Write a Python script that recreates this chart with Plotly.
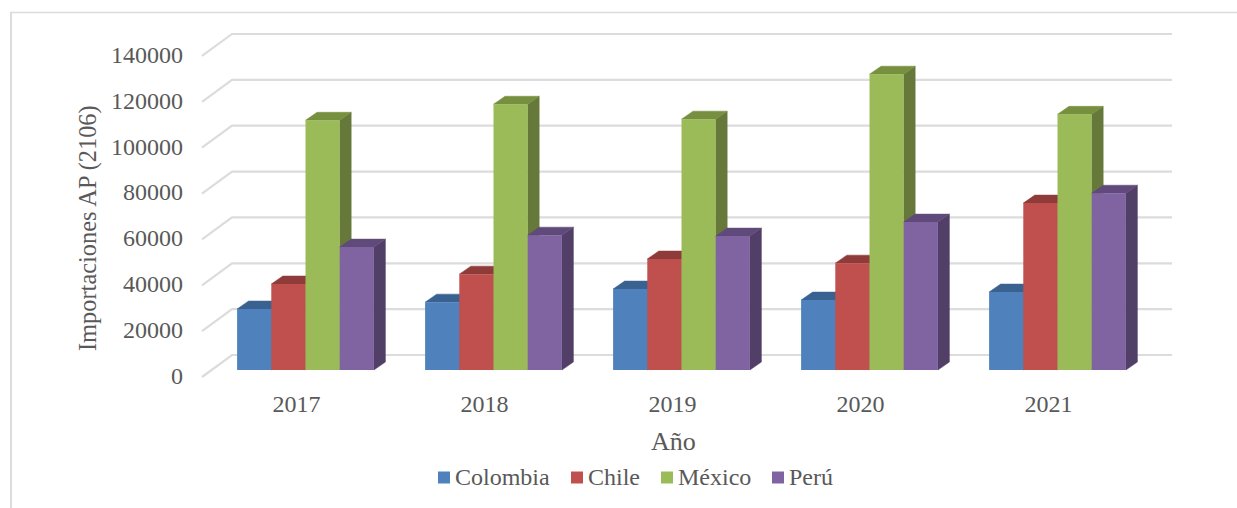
import plotly.graph_objects as go

# ---- data ----
years = [2017, 2018, 2019, 2020, 2021]
colombia = [26600, 29600, 35300, 30500, 34000]
chile = [37500, 41800, 48400, 46600, 72800]
mexico = [108900, 115900, 109400, 129000, 111500]
peru = [53600, 58800, 58400, 64500, 77100]
tick_values = [0, 20000, 40000, 60000, 80000, 100000, 120000, 140000]

names = ["Colombia", "Chile", "México", "Perú"]
values = [colombia, chile, mexico, peru]
front = ["#4F81BD", "#C0504D", "#9BBB59", "#8064A2"]
top_c = ["#3A6291", "#8F3B39", "#76903F", "#604A7B"]
side_c = ["#375A85", "#83322F", "#66793A", "#523F68"]

# ---- geometry (pixels in the 1237x508 page) ----
W, H = 1237, 508
L, R, T, B = 190, 1190, 20, 385       # plot area
base_px = 370                         # y of value 0 on the bars' front plane
px_per_unit_y = 45.86 / 20000
px_per_year = 188.0
first_center_px = 305.5
bar_w = 34.2 / px_per_year
dx = 11.5 / px_per_year
dy = 8.0 / px_per_unit_y

xr0 = years[0] - (first_center_px - L) / px_per_year
xr1 = years[0] + (R - first_center_px) / px_per_year
yr0 = -(B - base_px) / px_per_unit_y
yr1 = (base_px - T) / px_per_unit_y


def y_at(px):
    return (base_px - px) / px_per_unit_y


def x_at(px):
    return xr0 + (px - L) / px_per_year


def xp(px):
    return (px - L) / (R - L)


def yp(px):
    return (B - px) / (B - T)


fig = go.Figure()
GRID = "#DCDCDC"
back_zero = y_at(355)
front_zero = y_at(377)
gx, gy = [], []
for v in tick_values:
    gx += [x_at(202), x_at(232), x_at(1172), None]
    gy += [front_zero + v, back_zero + v, back_zero + v, None]
fig.add_trace(go.Scatter(x=gx, y=gy, mode="lines", line=dict(color=GRID, width=2.2),
                         showlegend=False, hoverinfo="skip", zorder=0))

for i, (name, vals) in enumerate(zip(names, values)):
    offset = (i - 2) * bar_w
    sx, sy, tx, ty = [], [], [], []
    for yr, v in zip(years, vals):
        xl = yr + offset
        xr = xl + bar_w
        sx += [xr, xr + dx, xr + dx, xr, xr, None]
        sy += [0, dy, v + dy, v, 0, None]
        tx += [xl, xl + dx, xr + dx, xr, xl, None]
        ty += [v, v + dy, v + dy, v, v, None]
    fig.add_trace(go.Scatter(x=sx, y=sy, mode="lines", fill="toself", fillcolor=side_c[i],
                             line=dict(color=side_c[i], width=0.5), showlegend=False,
                             hoverinfo="skip", zorder=2 * i + 1))
    fig.add_trace(go.Scatter(x=tx, y=ty, mode="lines", fill="toself", fillcolor=top_c[i],
                             line=dict(color=top_c[i], width=0.5), showlegend=False,
                             hoverinfo="skip", zorder=2 * i + 1))
    fig.add_trace(go.Bar(x=years, y=vals, name=name, width=bar_w, offset=offset,
                         marker=dict(color=front[i], line=dict(width=0)),
                         showlegend=False, zorder=2 * i + 2))

FONT = "Liberation Serif"
TXT = "#595959"
annotations = [
    dict(text="Importaciones AP (2106)", x=xp(90), y=yp(228), textangle=-90, font=dict(size=24.4)),
    dict(text="Año", x=xp(673), y=yp(442), font=dict(size=26)),
]
shapes = [
    dict(type="line", xref="paper", yref="paper", x0=xp(10), x1=xp(1237), y0=yp(12.5), y1=yp(12.5),
         line=dict(color=GRID, width=1.5), layer="below"),
    dict(type="line", xref="paper", yref="paper", x0=xp(11), x1=xp(11), y0=yp(12.5), y1=yp(508),
         line=dict(color=GRID, width=2), layer="below"),
]
legend_sw = [438, 571, 661, 772]
for name, c, px in zip(names, front, legend_sw):
    shapes.append(dict(type="rect", xref="paper", yref="paper", x0=xp(px), x1=xp(px + 12),
                       y0=yp(471.5), y1=yp(483.5), fillcolor=c, line=dict(width=0)))
    annotations.append(dict(text=name, x=xp(px + 15), y=yp(477), xanchor="left",
                            font=dict(size=24)))
for a in annotations:
    a.update(xref="paper", yref="paper", showarrow=False)
    a.setdefault("xanchor", "center")
    a["yanchor"] = "middle"
    a["font"].update(family=FONT, color=TXT)
annotations[0]["x"] = xp(88)

fig.update_layout(
    width=W, height=H, margin=dict(l=L, r=W - R, t=T, b=H - B, pad=0, autoexpand=False),
    paper_bgcolor="white", plot_bgcolor="rgba(0,0,0,0)", barmode="overlay",
    showlegend=False, annotations=annotations, shapes=shapes,
    font=dict(family=FONT, color=TXT, size=24),
    xaxis=dict(range=[xr0, xr1], tickmode="array", showgrid=False, zeroline=False,
               tickvals=[y - 9 / px_per_year for y in years], ticktext=[str(y) for y in years],
               ticks="", showline=False, ticklabelstandoff=2, tickfont=dict(size=24)),
    yaxis=dict(range=[yr0, yr1], tickmode="array", showgrid=False, zeroline=False,
               tickvals=[y_at(375.5) + v for v in tick_values], ticktext=[str(v) for v in tick_values],
               ticks="", showline=False, ticklabelstandoff=6, tickfont=dict(size=24)),
)

fig.write_html("out.html", config=dict(displayModeBar=False),
               post_script="document.body.style.margin='0';")
